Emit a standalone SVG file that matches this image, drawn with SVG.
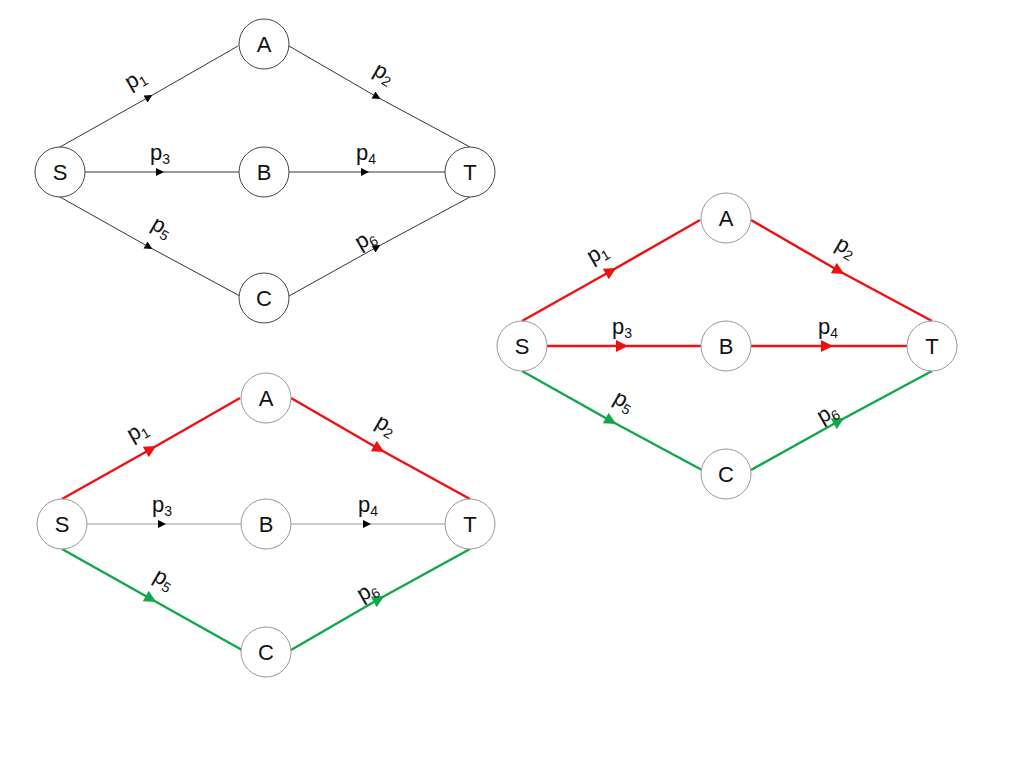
<svg xmlns="http://www.w3.org/2000/svg" width="1024" height="768" viewBox="0 0 1024 768">
<style>
.n circle{fill:#fff;stroke:#999;stroke-width:1}
.d1 .n circle{stroke:#444}
.n text{font-family:"Liberation Sans",Arial,sans-serif;font-size:22px;text-anchor:middle;fill:#111}
.l{font-family:"Liberation Sans",Arial,sans-serif;font-size:22px;fill:#111}
.s{font-size:14px}
.e{fill:none}
.k{stroke:#333;stroke-width:1;marker-mid:url(#mk)}
.g{stroke:#999;stroke-width:1;marker-mid:url(#mk)}
.r{stroke:#ee1111;stroke-width:2.5;marker-mid:url(#mr)}
.gr{stroke:#11a84a;stroke-width:2.5;marker-mid:url(#mg)}
</style>
<defs>
<marker id="mk" viewBox="0 0 10 10" refX="5" refY="5" markerWidth="10" markerHeight="8" markerUnits="userSpaceOnUse" orient="auto"><path d="M0,0L10,5L0,10z" fill="#000"/></marker>
<marker id="mr" viewBox="0 0 10 10" refX="5" refY="5" markerWidth="14" markerHeight="12" markerUnits="userSpaceOnUse" orient="auto"><path d="M0,0L10,5L0,10z" fill="#ee1111"/></marker>
<marker id="mg" viewBox="0 0 10 10" refX="5" refY="5" markerWidth="14" markerHeight="12" markerUnits="userSpaceOnUse" orient="auto"><path d="M0,0L10,5L0,10z" fill="#11a84a"/></marker>
</defs>
<rect width="1024" height="768" fill="#fff"/>

<g class="d1" transform="translate(60,172)">
<g id="edges1">
<path class="e k" d="M0,-25L89,-75L178,-126"/>
<path class="e k" d="M229,-126L317,-75L410,-25"/>
<path class="e k" d="M25,0L100,0L179,0"/>
<path class="e k" d="M229,0L305,0L385,0"/>
<path class="e k" d="M0,25L89,75L180,124"/>
<path class="e k" d="M229,124L317,75L410,25"/>
</g>
<g class="l">
<text transform="translate(70,-82) rotate(-30)">p<tspan class="s" dy="4">1</tspan></text>
<text transform="translate(312,-98) rotate(30)">p<tspan class="s" dy="4">2</tspan></text>
<text x="90" y="-12">p<tspan class="s" dy="4">3</tspan></text>
<text x="296" y="-12">p<tspan class="s" dy="4">4</tspan></text>
<text transform="translate(90,56) rotate(30)">p<tspan class="s" dy="4">5</tspan></text>
<text transform="translate(300,78) rotate(-30)">p<tspan class="s" dy="4">6</tspan></text>
</g>
<g id="S1" class="n"><circle r="25"/><text y="8">S</text></g>
<g id="A1" class="n" transform="translate(204,-128)"><circle r="25"/><text y="8">A</text></g>
<g id="B1" class="n" transform="translate(204,0)"><circle r="25"/><text y="8">B</text></g>
<g id="T1" class="n" transform="translate(410,0)"><circle r="25"/><text y="8">T</text></g>
<g id="C1" class="n" transform="translate(204,126)"><circle r="25"/><text y="8">C</text></g>
</g>

<g class="d2" transform="translate(522,346)">
<g id="edges2">
<path class="e r" d="M0,-25L89,-75L178,-126"/>
<path class="e r" d="M229,-126L317,-75L410,-25"/>
<path class="e r" d="M25,0L100,0L179,0"/>
<path class="e r" d="M229,0L305,0L385,0"/>
<path class="e gr" d="M0,25L89,75L180,124"/>
<path class="e gr" d="M229,124L317,75L410,25"/>
</g>
<g class="l">
<text transform="translate(70,-82) rotate(-30)">p<tspan class="s" dy="4">1</tspan></text>
<text transform="translate(312,-98) rotate(30)">p<tspan class="s" dy="4">2</tspan></text>
<text x="90" y="-12">p<tspan class="s" dy="4">3</tspan></text>
<text x="296" y="-12">p<tspan class="s" dy="4">4</tspan></text>
<text transform="translate(90,56) rotate(30)">p<tspan class="s" dy="4">5</tspan></text>
<text transform="translate(300,78) rotate(-30)">p<tspan class="s" dy="4">6</tspan></text>
</g>
<g id="S2" class="n"><circle r="25"/><text y="8">S</text></g>
<g id="A2" class="n" transform="translate(204,-128)"><circle r="25"/><text y="8">A</text></g>
<g id="B2" class="n" transform="translate(204,0)"><circle r="25"/><text y="8">B</text></g>
<g id="T2" class="n" transform="translate(410,0)"><circle r="25"/><text y="8">T</text></g>
<g id="C2" class="n" transform="translate(204,128)"><circle r="25"/><text y="8">C</text></g>
</g>

<g class="d3" transform="translate(62,524)">
<g id="edges3">
<path class="e r" d="M0,-25L89,-75L178,-126"/>
<path class="e r" d="M229,-126L317,-75L408,-25"/>
<path class="e g" d="M25,0L100,0L179,0"/>
<path class="e g" d="M229,0L305,0L383,0"/>
<path class="e gr" d="M0,25L89,75L180,126"/>
<path class="e gr" d="M229,126L317,75L408,25"/>
</g>
<g class="l">
<text transform="translate(70,-82) rotate(-30)">p<tspan class="s" dy="4">1</tspan></text>
<text transform="translate(312,-98) rotate(30)">p<tspan class="s" dy="4">2</tspan></text>
<text x="90" y="-12">p<tspan class="s" dy="4">3</tspan></text>
<text x="296" y="-12">p<tspan class="s" dy="4">4</tspan></text>
<text transform="translate(90,56) rotate(30)">p<tspan class="s" dy="4">5</tspan></text>
<text transform="translate(300,78) rotate(-30)">p<tspan class="s" dy="4">6</tspan></text>
</g>
<g id="S3" class="n"><circle r="25"/><text y="8">S</text></g>
<g id="A3" class="n" transform="translate(204,-126)"><circle r="25"/><text y="8">A</text></g>
<g id="B3" class="n" transform="translate(204,0)"><circle r="25"/><text y="8">B</text></g>
<g id="T3" class="n" transform="translate(408,0)"><circle r="25"/><text y="8">T</text></g>
<g id="C3" class="n" transform="translate(204,128)"><circle r="25"/><text y="8">C</text></g>
</g>
</svg>
